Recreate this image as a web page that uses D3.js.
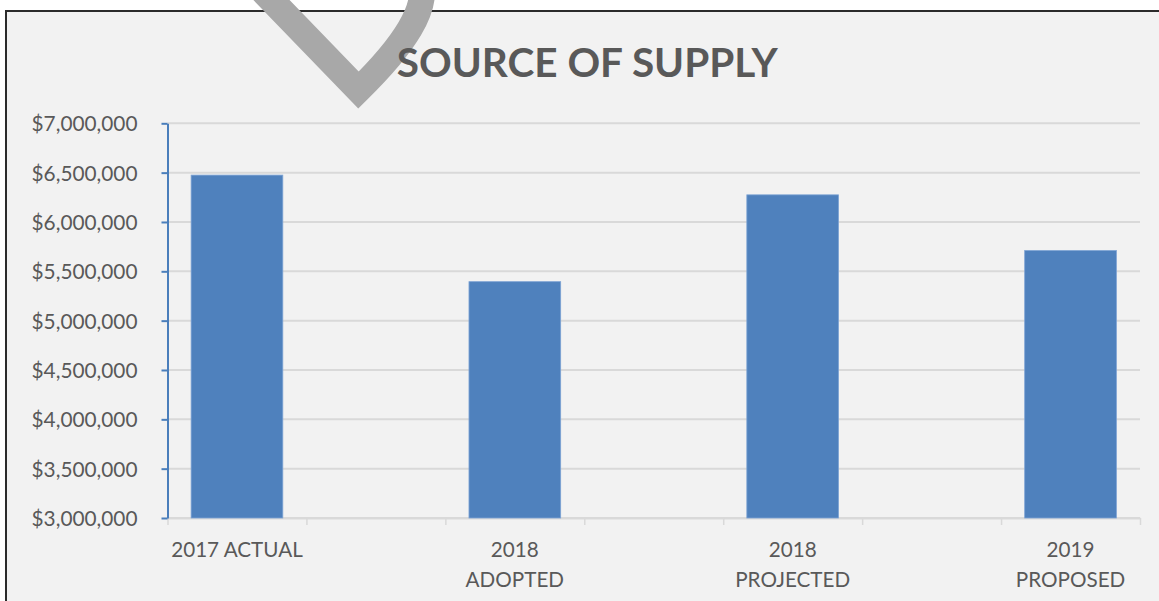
<!DOCTYPE html>
<html>
<head>
<meta charset="utf-8">
<script src="https://cdn.jsdelivr.net/npm/d3@7"></script>
<style>
  html, body { margin: 0; padding: 0; background: #fff; }
  svg { display: block; }
  text { font-family: Lato, "Open Sans", sans-serif; fill: #595959; }
</style>
</head>
<body>
<svg id="chart" width="1159" height="601"></svg>
<script>
// chart data
var title = "SOURCE OF SUPPLY";
// empty slots are the blank categories between the bars
var categories = ["2017 ACTUAL", "s1", "2018 ADOPTED", "s2", "2018 PROJECTED", "s3", "2019 PROPOSED"];
var labelLines = [["2017 ACTUAL"], [], ["2018", "ADOPTED"], [], ["2018", "PROJECTED"], [], ["2019", "PROPOSED"]];
var values = [6475000, null, 5395000, null, 6275000, null, 5710000];
var yTicks = [3000000, 3500000, 4000000, 4500000, 5000000, 5500000, 6000000, 6500000, 7000000];

var fitFont = function (sel, target) {
  var w = sel.node().getComputedTextLength();
  var fs = parseFloat(sel.attr("font-size"));
  return fs * target / w;
};

var drawChart = function () {
  var svg = d3.select("#chart");
  var left = 167.5, right = 1140, top = 123.3, bottom = 518;

  // frame
  svg.append("rect")
    .attr("x", 7).attr("y", 12)
    .attr("width", 1152).attr("height", 589)
    .attr("fill", "#f2f2f2");
  svg.append("path")
    .attr("d", "M6,601 V11 H1159")
    .attr("fill", "none")
    .attr("stroke", "#2b2b2b")
    .attr("stroke-width", 2);

  // watermark stroke at top
  svg.append("path")
    .attr("d", "M256,-16 L358.5,90 Q430,20 421,-16")
    .attr("fill", "none")
    .attr("stroke", "#a8a8a8")
    .attr("stroke-width", 26)
    .attr("stroke-linejoin", "miter");

  var x = d3.scaleBand()
    .domain(categories)
    .range([left, right])
    .paddingInner(0.34)
    .paddingOuter(0.17);
  var slot = d3.scaleLinear().domain([0, categories.length]).range([left, right]);
  var y = d3.scaleLinear().domain([3000000, 7000000]).range([bottom, top]);

  // gridlines
  svg.append("g").selectAll("line.grid")
    .data(yTicks)
    .enter().append("line")
      .attr("x1", left).attr("x2", right)
      .attr("y1", function (d) { return y(d); })
      .attr("y2", function (d) { return y(d); })
      .attr("stroke", "#d9d9d9")
      .attr("stroke-width", 2);

  // x axis ticks on category boundaries
  var gx = svg.append("g")
    .attr("transform", "translate(0," + bottom + ")")
    .call(d3.axisBottom(slot).tickValues(d3.range(categories.length + 1)).tickFormat("").tickSize(7).tickSizeOuter(0));
  gx.select(".domain").attr("stroke", "#d9d9d9").attr("stroke-width", 2);
  gx.selectAll(".tick line").attr("stroke", "#d9d9d9").attr("stroke-width", 1.5);

  // bars
  svg.append("g").selectAll("rect.bar")
    .data(categories.map(function (c, i) { return {cat: c, value: values[i]}; })
      .filter(function (d) { return d.value != null; }))
    .enter().append("rect")
      .attr("class", "bar")
      .attr("x", function (d) { return x(d.cat); })
      .attr("y", function (d) { return y(d.value); })
      .attr("width", x.bandwidth())
      .attr("height", function (d) { return bottom - y(d.value); })
      .attr("fill", "#4f81bd")
      .attr("stroke", "#7da3d4")
      .attr("stroke-width", 0.8);

  // y axis
  var gy = svg.append("g")
    .attr("transform", "translate(" + left + ",0)")
    .call(d3.axisLeft(y).tickValues(yTicks).tickFormat(d3.format("$,")).tickSize(6).tickSizeOuter(0).tickPadding(24));
  gy.select(".domain").attr("stroke", "#4a7ebb").attr("stroke-width", 2);
  gy.selectAll(".tick line").attr("stroke", "#4a7ebb").attr("stroke-width", 2);
  gy.selectAll(".tick text")
    .attr("font-family", "Lato, sans-serif")
    .attr("font-size", 20)
    .attr("fill", "#595959")
    .attr("dy", "0.36em");
  var yFs = fitFont(gy.select(".tick:last-of-type text"), 106);
  gy.selectAll(".tick text").attr("font-size", yFs);

  // x labels
  var gl = svg.append("g");
  var lbl = gl.selectAll("text.xlab")
    .data(categories.map(function (c, i) { return {cat: c, lines: labelLines[i]}; }))
    .enter().append("text")
      .attr("class", "xlab")
      .attr("text-anchor", "middle")
      .attr("font-size", 20)
      .attr("transform", function (d) { return "translate(" + (x(d.cat) + x.bandwidth() / 2) + ",557.3)"; });
  lbl.selectAll("tspan")
    .data(function (d) { return d.lines; })
    .enter().append("tspan")
      .attr("x", 0)
      .attr("y", function (d, i) { return i * 29.4; })
      .text(function (d) { return d; });
  var xFs = fitFont(gl.select("text.xlab"), 131.7);
  lbl.attr("font-size", xFs);

  // title
  var t = svg.append("text")
    .attr("x", 587.3)
    .attr("y", 76.7)
    .attr("text-anchor", "middle")
    .attr("font-weight", "bold")
    .attr("font-size", 40)
    .text(title);
  t.attr("font-size", fitFont(t, 381));
};

drawChart();
</script>
</body>
</html>
